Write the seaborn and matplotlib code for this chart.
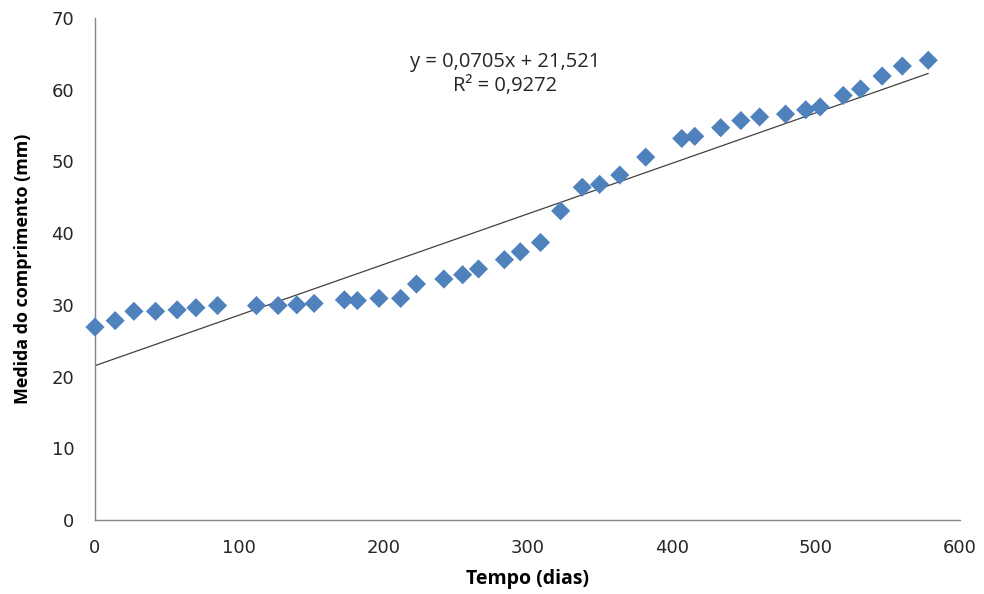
import matplotlib
matplotlib.use("Agg")
import matplotlib.pyplot as plt
import seaborn as sns
import numpy as np
import pandas as pd

dias = [0, 14, 27, 42, 57, 70, 85, 112, 127, 140, 152, 173, 182, 197, 212, 223,
        242, 255, 266, 284, 295, 309, 323, 338, 350, 364, 382, 407, 416, 434,
        448, 461, 479, 493, 503, 519, 531, 546, 560, 578]
comprimento = [26.9, 27.8, 29.1, 29.1, 29.3, 29.6, 29.9, 29.9, 29.9, 30.0, 30.2,
               30.7, 30.6, 30.9, 30.9, 32.9, 33.6, 34.2, 35.0, 36.3, 37.4, 38.7,
               43.1, 46.4, 46.8, 48.1, 50.6, 53.2, 53.5, 54.7, 55.7, 56.2, 56.6,
               57.2, 57.6, 59.2, 60.1, 61.9, 63.3, 64.1]
slope = 0.0705
intercept = 21.521
equation_text = "y = 0,0705x + 21,521\nR² = 0,9272"

df = pd.DataFrame({"Tempo (dias)": dias, "Medida do comprimento (mm)": comprimento})

sns.set_style("white")
plt.rcParams['font.family'] = ['Open Sans', 'DejaVu Sans']

fig = plt.figure(figsize=(9.84, 5.94), dpi=100)
ax = fig.add_axes([95/984, 1-520/594, 865/984, 502/594])

sns.scatterplot(data=df, x="Tempo (dias)", y="Medida do comprimento (mm)", ax=ax,
                marker="D", s=95, color="#4F81BD", edgecolor="none", zorder=3,
                clip_on=False)

xl = np.array([0, max(dias)])
ax.plot(xl, slope * xl + intercept, color="#404040", lw=0.9, zorder=2)

ax.set_xlim(0, 600)
ax.set_ylim(0, 70)
ax.set_xticks(range(0, 601, 100))
ax.set_yticks(range(0, 71, 10))

for s in ["top", "right"]:
    ax.spines[s].set_visible(False)
for s in ["left", "bottom"]:
    ax.spines[s].set_color("#868686")
    ax.spines[s].set_linewidth(1.0)

ax.tick_params(axis="both", which="major", direction="out", length=5, width=1,
               color="#868686", labelsize=13, labelcolor="#262626")
ax.tick_params(axis="x", pad=9)
ax.tick_params(axis="y", pad=10)
for lab in ax.get_xticklabels() + ax.get_yticklabels():
    lab.set_family(["DejaVu Sans"])

ax.set_xlabel("Tempo (dias)", fontsize=14, fontweight="bold", labelpad=8, color="#000000")
ax.set_ylabel("Medida do comprimento (mm)", fontsize=12.9, fontweight="bold", labelpad=14, color="#000000")

ax.text(505/984, 1-74/594, equation_text, transform=fig.transFigure,
        ha="center", va="center", fontsize=14.5, color="#262626", linespacing=1.25)

fig.savefig("out.png", dpi=100)
